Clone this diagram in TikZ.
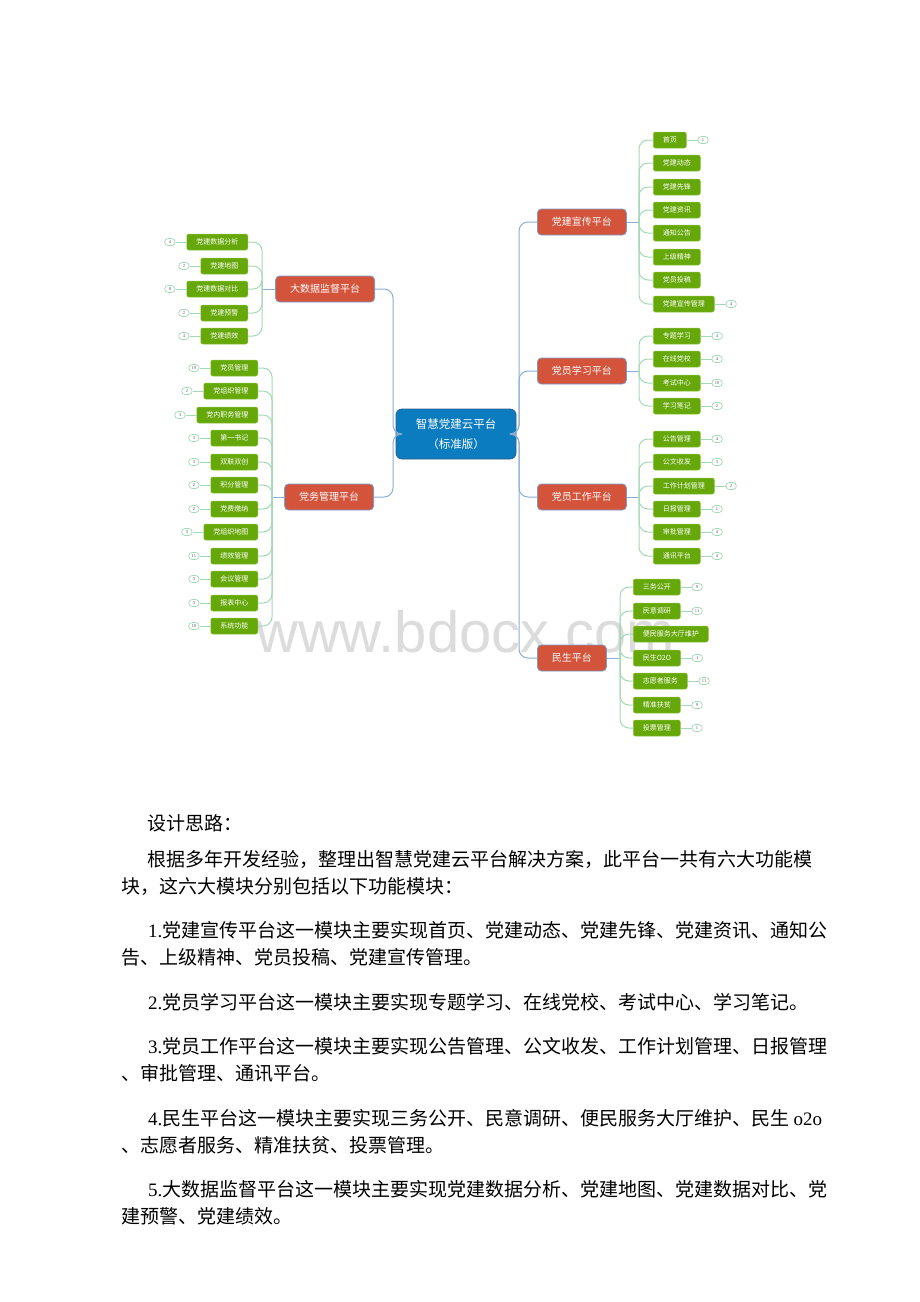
\documentclass[tikz,border=0pt]{standalone}
\usepackage{fontspec}
\usepackage{xcolor}
\usetikzlibrary{positioning}
\newfontfamily\cjk{Noto Sans CJK SC}
\newfontfamily\latnum{Liberation Serif}
\newfontfamily\marksans{Liberation Sans}
\definecolor{hubblue}{HTML}{0C7CC0}
\definecolor{hubedge}{HTML}{2B5F8A}
\definecolor{platred}{HTML}{D4533B}
\definecolor{platedge}{HTML}{7A9CC6}
\definecolor{leafgreen}{HTML}{66A80A}
\definecolor{leafedge}{HTML}{8CC43C}
\definecolor{limbblue}{HTML}{8DAED4}
\definecolor{twigmint}{HTML}{A3D9B5}
\definecolor{markgray}{HTML}{DCDCDC}

\begin{document}
\begin{tikzpicture}[x=1pt,y=-1pt,
  hubbox/.style={draw=hubedge, line width=0.8pt, fill=hubblue, rounded corners=6pt,
    text=white, align=center, minimum width=120pt, minimum height=50pt,
    font=\cjk\fontsize{11.5}{20}\selectfont},
  platbox/.style={draw=platedge, line width=0.8pt, fill=platred, rounded corners=4pt,
    text=white, inner xsep=14.5pt, minimum height=26pt, font=\cjk\fontsize{10}{12}\selectfont},
  leafbox/.style={draw=leafedge, line width=0.5pt, fill=leafgreen, rounded corners=2pt,
    text=white, inner xsep=9.5pt, inner ysep=0pt, minimum height=16pt, font=\cjk\fontsize{7}{8}\selectfont},
  countbox/.style={draw=twigmint, line width=0.7pt, fill=white, rounded corners=3.5pt,
    inner sep=0pt, minimum width=10.5pt, minimum height=7pt, text=black!65,
    font=\latnum\fontsize{4.5}{5}\selectfont},
  limb/.style={draw=limbblue, line width=1pt, rounded corners=9pt},
  twig/.style={draw=twigmint, line width=1pt, rounded corners=9pt},
  bodytext/.style={anchor=base west, inner sep=0pt, font=\cjk\fontsize{19}{19}\selectfont}]
\useasboundingbox[fill=white] (0,0) rectangle (920,1302);

% watermark
\node[font=\marksans\fontsize{58}{58}\selectfont, text=markgray, anchor=base west, inner sep=0pt]
  (mark) at (256,652) {www.bdocx.com};

% centre and platforms
\node[hubbox] (hub) at (456,434) {智慧党建云平台\\（标准版）};
\node[platbox, anchor=east] (big) at (375,289) {大数据监督平台};
\node[platbox, anchor=east] (wu) at (374,497) {党务管理平台};
\node[platbox, anchor=west] (xuan) at (537,222) {党建宣传平台};
\node[platbox, anchor=west] (xue) at (537,371) {党员学习平台};
\node[platbox, anchor=west] (gong) at (537,497) {党员工作平台};
\node[platbox, anchor=west] (min) at (537,658) {民生平台};

\coordinate (lt) at (393,434);
\coordinate (rt) at (519,434);
\draw[limb] (hub.west) -- (lt) |- (big.east);
\draw[limb] (hub.west) -- (lt) |- (wu.east);
\draw[limb] (hub.east) -- (rt) |- (xuan.west);
\draw[limb] (hub.east) -- (rt) |- (xue.west);
\draw[limb] (hub.east) -- (rt) |- (gong.west);
\draw[limb] (hub.east) -- (rt) |- (min.west);

% 大数据监督平台
\coordinate (bigt) at (262,289);
\draw[limb] (big.west) -- (bigt);
\node[leafbox, anchor=east] (b1) at (248,242) {党建数据分析};
\node[leafbox, anchor=east] (b2) at (248,266) {党建地图};
\node[leafbox, anchor=east] (b3) at (248,289) {党建数据对比};
\node[leafbox, anchor=east] (b4) at (248,313) {党建预警};
\node[leafbox, anchor=east] (b5) at (248,336) {党建绩效};
\node[countbox, left=11pt of b1] (b1c) {4};
\node[countbox, left=11pt of b2] (b2c) {2};
\node[countbox, left=11pt of b3] (b3c) {8};
\node[countbox, left=11pt of b4] (b4c) {2};
\node[countbox, left=11pt of b5] (b5c) {4};
\draw[twig] (bigt) |- (b1.east);
\draw[twig] (bigt) |- (b2.east);
\draw[twig] (bigt) |- (b3.east);
\draw[twig] (bigt) |- (b4.east);
\draw[twig] (bigt) |- (b5.east);
\draw[twig] (b1) -- (b1c); \draw[twig] (b2) -- (b2c); \draw[twig] (b3) -- (b3c);
\draw[twig] (b4) -- (b4c); \draw[twig] (b5) -- (b5c);

% 党务管理平台
\coordinate (wut) at (272,497);
\draw[limb] (wu.west) -- (wut);
\node[leafbox, anchor=east] (w1) at (258,368) {党员管理};
\node[leafbox, anchor=east] (w2) at (258,391) {党组织管理};
\node[leafbox, anchor=east] (w3) at (258,415) {党内职务管理};
\node[leafbox, anchor=east] (w4) at (258,438) {第一书记};
\node[leafbox, anchor=east] (w5) at (258,462) {双联双创};
\node[leafbox, anchor=east] (w6) at (258,485) {积分管理};
\node[leafbox, anchor=east] (w7) at (258,509) {党费缴纳};
\node[leafbox, anchor=east] (w8) at (258,532) {党组织地图};
\node[leafbox, anchor=east] (w9) at (258,556) {绩效管理};
\node[leafbox, anchor=east] (w10) at (258,579) {会议管理};
\node[leafbox, anchor=east] (w11) at (258,603) {报表中心};
\node[leafbox, anchor=east] (w12) at (258,626) {系统功能};
\node[countbox, left=11pt of w1] (w1c) {19};
\node[countbox, left=11pt of w2] (w2c) {2};
\node[countbox, left=11pt of w3] (w3c) {3};
\node[countbox, left=11pt of w4] (w4c) {3};
\node[countbox, left=11pt of w5] (w5c) {3};
\node[countbox, left=11pt of w6] (w6c) {2};
\node[countbox, left=11pt of w7] (w7c) {2};
\node[countbox, left=11pt of w8] (w8c) {3};
\node[countbox, left=11pt of w9] (w9c) {11};
\node[countbox, left=11pt of w10] (w10c) {3};
\node[countbox, left=11pt of w11] (w11c) {3};
\node[countbox, left=11pt of w12] (w12c) {10};
\draw[twig] (wut) |- (w1.east);
\draw[twig] (wut) |- (w2.east);
\draw[twig] (wut) |- (w3.east);
\draw[twig] (wut) |- (w4.east);
\draw[twig] (wut) |- (w5.east);
\draw[twig] (wut) |- (w6.east);
\draw[twig] (wut) |- (w7.east);
\draw[twig] (wut) |- (w8.east);
\draw[twig] (wut) |- (w9.east);
\draw[twig] (wut) |- (w10.east);
\draw[twig] (wut) |- (w11.east);
\draw[twig] (wut) |- (w12.east);
\draw[twig] (w1) -- (w1c); \draw[twig] (w2) -- (w2c); \draw[twig] (w3) -- (w3c);
\draw[twig] (w4) -- (w4c); \draw[twig] (w5) -- (w5c); \draw[twig] (w6) -- (w6c);
\draw[twig] (w7) -- (w7c); \draw[twig] (w8) -- (w8c); \draw[twig] (w9) -- (w9c);
\draw[twig] (w10) -- (w10c); \draw[twig] (w11) -- (w11c); \draw[twig] (w12) -- (w12c);

% 党建宣传平台
\coordinate (xuant) at (639,222);
\draw[limb] (xuan.east) -- (xuant);
\node[leafbox, anchor=west] (x1) at (653,140) {首页};
\node[leafbox, anchor=west] (x2) at (653,163) {党建动态};
\node[leafbox, anchor=west] (x3) at (653,187) {党建先锋};
\node[leafbox, anchor=west] (x4) at (653,210) {党建资讯};
\node[leafbox, anchor=west] (x5) at (653,233) {通知公告};
\node[leafbox, anchor=west] (x6) at (653,257) {上级精神};
\node[leafbox, anchor=west] (x7) at (653,280) {党员投稿};
\node[leafbox, anchor=west] (x8) at (653,304) {党建宣传管理};
\node[countbox, right=11pt of x1] (x1c) {1};
\node[countbox, right=11pt of x8] (x8c) {4};
\draw[twig] (xuant) |- (x1.west);
\draw[twig] (xuant) |- (x2.west);
\draw[twig] (xuant) |- (x3.west);
\draw[twig] (xuant) |- (x4.west);
\draw[twig] (xuant) |- (x5.west);
\draw[twig] (xuant) |- (x6.west);
\draw[twig] (xuant) |- (x7.west);
\draw[twig] (xuant) |- (x8.west);
\draw[twig] (x1) -- (x1c); \draw[twig] (x8) -- (x8c);

% 党员学习平台
\coordinate (xuet) at (639,371);
\draw[limb] (xue.east) -- (xuet);
\node[leafbox, anchor=west] (s1) at (653,336) {专题学习};
\node[leafbox, anchor=west] (s2) at (653,359) {在线党校};
\node[leafbox, anchor=west] (s3) at (653,383) {考试中心};
\node[leafbox, anchor=west] (s4) at (653,406) {学习笔记};
\node[countbox, right=11pt of s1] (s1c) {4};
\node[countbox, right=11pt of s2] (s2c) {4};
\node[countbox, right=11pt of s3] (s3c) {10};
\node[countbox, right=11pt of s4] (s4c) {2};
\draw[twig] (xuet) |- (s1.west);
\draw[twig] (xuet) |- (s2.west);
\draw[twig] (xuet) |- (s3.west);
\draw[twig] (xuet) |- (s4.west);
\draw[twig] (s1) -- (s1c); \draw[twig] (s2) -- (s2c);
\draw[twig] (s3) -- (s3c); \draw[twig] (s4) -- (s4c);

% 党员工作平台
\coordinate (gongt) at (639,497);
\draw[limb] (gong.east) -- (gongt);
\node[leafbox, anchor=west] (g1) at (653,439) {公告管理};
\node[leafbox, anchor=west] (g2) at (653,462) {公文收发};
\node[leafbox, anchor=west] (g3) at (653,486) {工作计划管理};
\node[leafbox, anchor=west] (g4) at (653,509) {日报管理};
\node[leafbox, anchor=west] (g5) at (653,532) {审批管理};
\node[leafbox, anchor=west] (g6) at (653,556) {通讯平台};
\node[countbox, right=11pt of g1] (g1c) {4};
\node[countbox, right=11pt of g2] (g2c) {3};
\node[countbox, right=11pt of g3] (g3c) {2};
\node[countbox, right=11pt of g4] (g4c) {1};
\node[countbox, right=11pt of g5] (g5c) {4};
\node[countbox, right=11pt of g6] (g6c) {4};
\draw[twig] (gongt) |- (g1.west);
\draw[twig] (gongt) |- (g2.west);
\draw[twig] (gongt) |- (g3.west);
\draw[twig] (gongt) |- (g4.west);
\draw[twig] (gongt) |- (g5.west);
\draw[twig] (gongt) |- (g6.west);
\draw[twig] (g1) -- (g1c); \draw[twig] (g2) -- (g2c); \draw[twig] (g3) -- (g3c);
\draw[twig] (g4) -- (g4c); \draw[twig] (g5) -- (g5c); \draw[twig] (g6) -- (g6c);

% 民生平台
\coordinate (mint) at (620,658);
\draw[limb] (min.east) -- (mint);
\node[leafbox, anchor=west] (m1) at (633,587) {三务公开};
\node[leafbox, anchor=west] (m2) at (633,611) {民意调研};
\node[leafbox, anchor=west] (m3) at (633,634) {便民服务大厅维护};
\node[leafbox, anchor=west] (m4) at (633,658) {民生O2O};
\node[leafbox, anchor=west] (m5) at (633,681) {志愿者服务};
\node[leafbox, anchor=west] (m6) at (633,705) {精准扶贫};
\node[leafbox, anchor=west] (m7) at (633,728) {投票管理};
\node[countbox, right=11pt of m1] (m1c) {9};
\node[countbox, right=11pt of m2] (m2c) {11};
\node[countbox, right=11pt of m4] (m4c) {1};
\node[countbox, right=11pt of m5] (m5c) {11};
\node[countbox, right=11pt of m6] (m6c) {9};
\node[countbox, right=11pt of m7] (m7c) {1};
\draw[twig] (mint) |- (m1.west);
\draw[twig] (mint) |- (m2.west);
\draw[twig] (mint) |- (m3.west);
\draw[twig] (mint) |- (m4.west);
\draw[twig] (mint) |- (m5.west);
\draw[twig] (mint) |- (m6.west);
\draw[twig] (mint) |- (m7.west);
\draw[twig] (m1) -- (m1c); \draw[twig] (m2) -- (m2c); \draw[twig] (m4) -- (m4c);
\draw[twig] (m5) -- (m5c); \draw[twig] (m6) -- (m6c); \draw[twig] (m7) -- (m7c);

% text below
\node[bodytext] (t0) at (147,830) {设计思路：};
\node[bodytext] (t1) at (147,866) {根据多年开发经验，整理出智慧党建云平台解决方案，此平台一共有六大功能模};
\node[bodytext] (t1b) at (121,893) {块，这六大模块分别包括以下功能模块：};
\node[bodytext] (t2) at (148,937) {{\latnum 1.}党建宣传平台这一模块主要实现首页、党建动态、党建先锋、党建资讯、通知公};
\node[bodytext] (t2b) at (121,964) {告、上级精神、党员投稿、党建宣传管理。};
\node[bodytext] (t3) at (148,1009) {{\latnum 2.}党员学习平台这一模块主要实现专题学习、在线党校、考试中心、学习笔记。};
\node[bodytext] (t4) at (148,1053) {{\latnum 3.}党员工作平台这一模块主要实现公告管理、公文收发、工作计划管理、日报管理};
\node[bodytext] (t4b) at (121,1080) {、审批管理、通讯平台。};
\node[bodytext] (t5) at (148,1125) {{\latnum 4.}民生平台这一模块主要实现三务公开、民意调研、便民服务大厅维护、民生 {\latnum o2o}};
\node[bodytext] (t5b) at (121,1152) {、志愿者服务、精准扶贫、投票管理。};
\node[bodytext] (t6) at (148,1196) {{\latnum 5.}大数据监督平台这一模块主要实现党建数据分析、党建地图、党建数据对比、党};
\node[bodytext] (t6b) at (121,1223) {建预警、党建绩效。};
\end{tikzpicture}
\end{document}
